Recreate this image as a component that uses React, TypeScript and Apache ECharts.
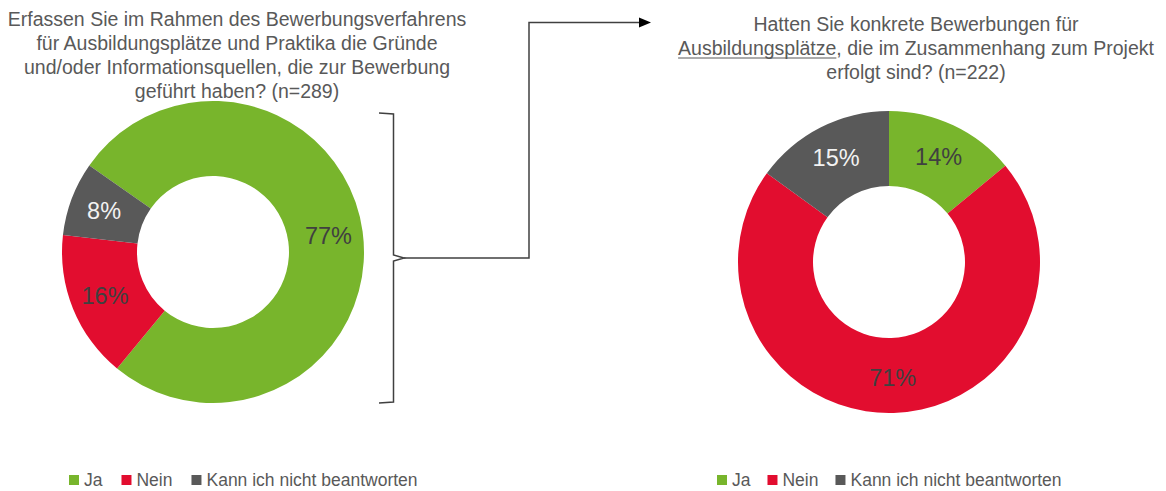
import React, { useEffect, useRef } from "react";
import * as echarts from "echarts";

const categories = ["Ja", "Nein", "Kann ich nicht beantworten"];
const leftValues = [77, 16, 8];
const rightValues = [14, 71, 15];
const leftTitleLines = [
  "Erfassen Sie im Rahmen des Bewerbungsverfahrens",
  "für Ausbildungsplätze und Praktika die Gründe",
  "und/oder Informationsquellen, die zur Bewerbung",
  "geführt haben? (n=289)",
];
const rightTitleLines = [
  "Hatten Sie konkrete Bewerbungen für",
  "Ausbildungsplätze, die im Zusammenhang zum Projekt",
  "erfolgt sind? (n=222)",
];
const underlinedWord = "Ausbildungsplätze";

const COLORS = ["#78b52c", "#e20d2f", "#595959"];
const LABEL_COLORS = ["#404040", "#404040", "#f2f2f2"];
const FONT = "Liberation Sans, Arial, sans-serif";
const TEXT_COLOR = "#595959";

function measure(text: string, size: number): number {
  const c = document.createElement("canvas");
  const ctx = c.getContext("2d");
  if (!ctx) return text.length * size * 0.5;
  ctx.font = `${size}px ${FONT}`;
  return ctx.measureText(text).width;
}

export default function App() {
  const ref = useRef<HTMLDivElement>(null);
  useEffect(() => {
    if (!ref.current) return;
    const chart = echarts.init(ref.current, undefined, { renderer: "svg" });
    const titleSize = 19.5;
    const lineH = 24;

    const makePieData = (vals: number[]) =>
      vals.map((v, i) => ({
        name: categories[i],
        value: v,
        itemStyle: { color: COLORS[i] },
        label: { color: LABEL_COLORS[i] },
      }));

    const graphics: any[] = [];
    leftTitleLines.forEach((t, i) => {
      graphics.push({
        type: "text",
        x: 237,
        y: 19 + i * lineH,
        style: {
          text: t,
          fill: TEXT_COLOR,
          font: `${titleSize}px ${FONT}`,
          textAlign: "center",
          textVerticalAlign: "middle",
        },
      });
    });
    const rCx = 916;
    rightTitleLines.forEach((t, i) => {
      graphics.push({
        type: "text",
        x: rCx,
        y: 24 + i * lineH,
        style: {
          text: t,
          fill: TEXT_COLOR,
          font: `${titleSize}px ${FONT}`,
          textAlign: "center",
          textVerticalAlign: "middle",
        },
      });
    });
    const fullW = measure(rightTitleLines[1], titleSize);
    const partW = measure(underlinedWord, titleSize);
    const ux0 = rCx - fullW / 2;
    graphics.push({
      type: "line",
      shape: { x1: ux0, y1: 24 + lineH + 10, x2: ux0 + partW, y2: 24 + lineH + 10 },
      style: { stroke: TEXT_COLOR, lineWidth: 1 },
    });
    // bracket
    graphics.push({
      type: "polyline",
      shape: {
        points: [
          [379, 113],
          [393.5, 114],
          [393.5, 255],
          [404, 258],
          [393.5, 261],
          [393.5, 402],
          [379, 403],
        ],
      },
      style: { stroke: "#404040", lineWidth: 1.5, fill: null },
    });
    graphics.push({
      type: "polyline",
      shape: {
        points: [
          [404, 258],
          [529, 258],
          [529, 22.5],
          [641, 22.5],
        ],
      },
      style: { stroke: "#404040", lineWidth: 1.5, fill: null },
    });
    graphics.push({
      type: "polygon",
      shape: {
        points: [
          [639, 17.5],
          [651, 22.5],
          [639, 27.5],
        ],
      },
      style: { fill: "#000000" },
    });

    const legendBase = {
      itemWidth: 10,
      itemHeight: 10,
      icon: "rect",
      itemGap: 19,
      textStyle: { fontSize: 17.5, color: TEXT_COLOR, fontFamily: FONT },
      selectedMode: false,
      data: categories,
    };

    const pieBase = {
      type: "pie",
      radius: [76, 151],
      avoidLabelOverlap: false,
      clockwise: true,
      label: {
        show: true,
        position: "inside",
        formatter: "{c}%",
        fontSize: 23.5,
        fontFamily: FONT,
      },
      labelLine: { show: false },
      emphasis: { disabled: true },
      itemStyle: { borderWidth: 0 },
    };

    chart.setOption({
      animation: false,
      backgroundColor: "#ffffff",
      legend: [
        { ...legendBase, left: 64, top: 466 },
        { ...legendBase, left: 712, top: 466, itemGap: 17 },
      ],
      series: [
        { ...pieBase, name: "left", center: [213, 252], startAngle: 145, data: makePieData(leftValues) },
        { ...pieBase, name: "right", center: [889, 262], startAngle: 90, data: makePieData(rightValues) },
      ],
      graphic: graphics,
    });
    return () => chart.dispose();
  }, []);
  return (
    <div
      ref={ref}
      style={{ position: "fixed", left: 0, top: 0, width: 1166, height: 491 }}
    />
  );
}
